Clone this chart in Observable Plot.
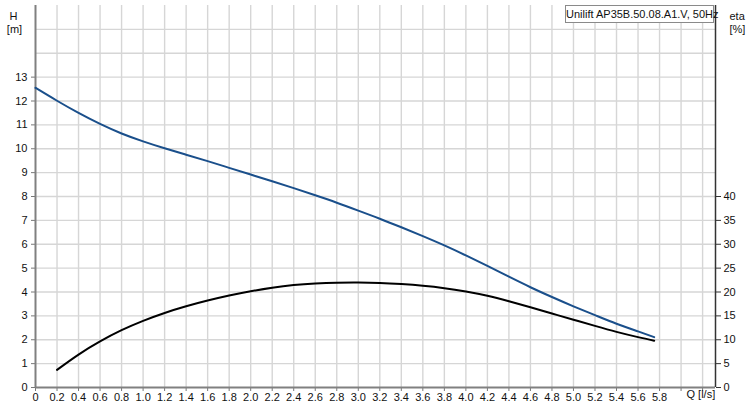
<!DOCTYPE html>
<html>
<head>
<meta charset="utf-8">
<script src="https://cdn.jsdelivr.net/npm/d3@7"></script>
<script src="https://cdn.jsdelivr.net/npm/@observablehq/plot@0.6"></script>
<style>
  html, body { margin: 0; padding: 0; background: #fff; }
  #wrap { position: relative; width: 749px; height: 404px; }
  #legend {
    position: absolute; left: 565px; top: 5px; width: 147px; height: 16px;
    border: 1px solid #8a8a8a; background: #fff;
    font: 11px "Liberation Sans", Arial, sans-serif; color: #111;
    line-height: 16px; text-align: center; white-space: nowrap;
  }
</style>
</head>
<body>
<div id="wrap"><div id="legend">Unilift AP35B.50.08.A1.V, 50Hz</div></div>
<script>
// Head curve H [m] vs flow Q [l/s]
const qH = [0, 0.2, 0.4, 0.6, 0.8, 1.0, 1.2, 1.4, 1.6, 1.8, 2.0, 2.2, 2.4, 2.6, 2.8, 3.0, 3.2, 3.4, 3.6, 3.8, 4.0, 4.2, 4.4, 4.6, 4.8, 5.0, 5.2, 5.4, 5.6, 5.75];
const hVals = [12.55, 12.01, 11.5, 11.04, 10.64, 10.31, 10.02, 9.75, 9.48, 9.2, 8.92, 8.64, 8.35, 8.05, 7.74, 7.41, 7.07, 6.71, 6.34, 5.95, 5.53, 5.09, 4.64, 4.2, 3.79, 3.4, 3.03, 2.67, 2.35, 2.11];
// Efficiency curve eta [%] vs flow Q [l/s]
const qEta = [0.2, 0.4, 0.6, 0.8, 1.0, 1.2, 1.4, 1.6, 1.8, 2.0, 2.2, 2.4, 2.6, 2.8, 3.0, 3.2, 3.4, 3.6, 3.8, 4.0, 4.2, 4.4, 4.6, 4.8, 5.0, 5.2, 5.4, 5.6, 5.75];
const etaVals = [3.7, 6.9, 9.65, 12.0, 13.95, 15.6, 17.0, 18.2, 19.25, 20.15, 20.9, 21.45, 21.78, 21.96, 22.0, 21.9, 21.65, 21.3, 20.8, 20.1, 19.2, 18.05, 16.8, 15.5, 14.2, 12.9, 11.65, 10.55, 9.8];

// Tick labels
const qTicks = [0, 0.2, 0.4, 0.6, 0.8, 1.0, 1.2, 1.4, 1.6, 1.8, 2.0, 2.2, 2.4, 2.6, 2.8, 3.0, 3.2, 3.4, 3.6, 3.8, 4.0, 4.2, 4.4, 4.6, 4.8, 5.0, 5.2, 5.4, 5.6, 5.8];
const qExtraTicks = [6.0, 6.2];
const hTicks = [0, 1, 2, 3, 4, 5, 6, 7, 8, 9, 10, 11, 12, 13];
const hGrid = [1, 2, 3, 4, 5, 6, 7, 8, 9, 10, 11, 12, 13, 14, 15];
const etaTicks = [0, 5, 10, 15, 20, 25, 30, 35, 40];
const etaPerMetre = 5; // right axis: 5 % per 1 m

const hData = qH.map((q, i) => ({q, h: hVals[i]}));
const etaData = qEta.map((q, i) => ({q, e: etaVals[i]}));
const qGrid = qTicks.slice(1).concat(qExtraTicks);

const font = "'Liberation Sans', Arial, sans-serif";
const chart = Plot.plot({
  width: 749,
  height: 404,
  marginLeft: 35,
  marginRight: 34,
  marginTop: 5,
  marginBottom: 17,
  style: {fontFamily: font, fontSize: "11px", background: "white", color: "#111", overflow: "visible"},
  x: {domain: [0, 6.32]},
  y: {domain: [0, 16]},
  marks: [
    Plot.gridX(qGrid, {stroke: "#d6d6d6", strokeOpacity: 1, strokeWidth: 1.4}),
    Plot.gridY(hGrid, {stroke: "#d6d6d6", strokeOpacity: 1, strokeWidth: 1.4}),
    Plot.axisX(qTicks, {label: null, tickFormat: d => d === 0 ? "0" : d.toFixed(1), tickSize: 4, tickPadding: 2, stroke: "#777", fill: "#111"}),
    Plot.axisX(qExtraTicks, {label: null, tickFormat: () => "", tickSize: 4, stroke: "#777"}),
    Plot.axisY(hTicks, {label: null, anchor: "left", tickSize: 4, tickPadding: 4, stroke: "#777", fill: "#111"}),
    Plot.axisY(etaTicks.map(e => e / etaPerMetre), {label: null, anchor: "right", tickSize: 5, tickPadding: 3, stroke: "#333", fill: "#111", tickFormat: d => String(Math.round(d * etaPerMetre))}),
    Plot.ruleY([0], {stroke: "#808080", strokeWidth: 2}),
    Plot.ruleX([0], {stroke: "#808080", strokeWidth: 2}),
    Plot.ruleX([6.32], {stroke: "#333", strokeWidth: 1.5}),
    Plot.line(etaData, {x: "q", y: d => d.e / etaPerMetre, stroke: "#000", strokeWidth: 2, curve: "natural"}),
    Plot.line(hData, {x: "q", y: "h", stroke: "#1a4f8b", strokeWidth: 2, curve: "natural"}),
    Plot.text(["H"], {frameAnchor: "top-left", dx: -22, dy: 7, text: d => d, fill: "#111", textAnchor: "middle"}),
    Plot.text(["[m]"], {frameAnchor: "top-left", dx: -21, dy: 20, text: d => d, fill: "#111", textAnchor: "middle"}),
    Plot.text(["eta"], {frameAnchor: "top-right", dx: 14, dy: 7, text: d => d, fill: "#111", textAnchor: "start"}),
    Plot.text(["[%]"], {frameAnchor: "top-right", dx: 14, dy: 20, text: d => d, fill: "#111", textAnchor: "start"}),
    Plot.text(["Q [l/s]"], {frameAnchor: "bottom-right", dx: -29, dy: 10, text: d => d, fill: "#111", textAnchor: "start"})
  ]
});
document.getElementById("wrap").prepend(chart);
</script>
</body>
</html>
